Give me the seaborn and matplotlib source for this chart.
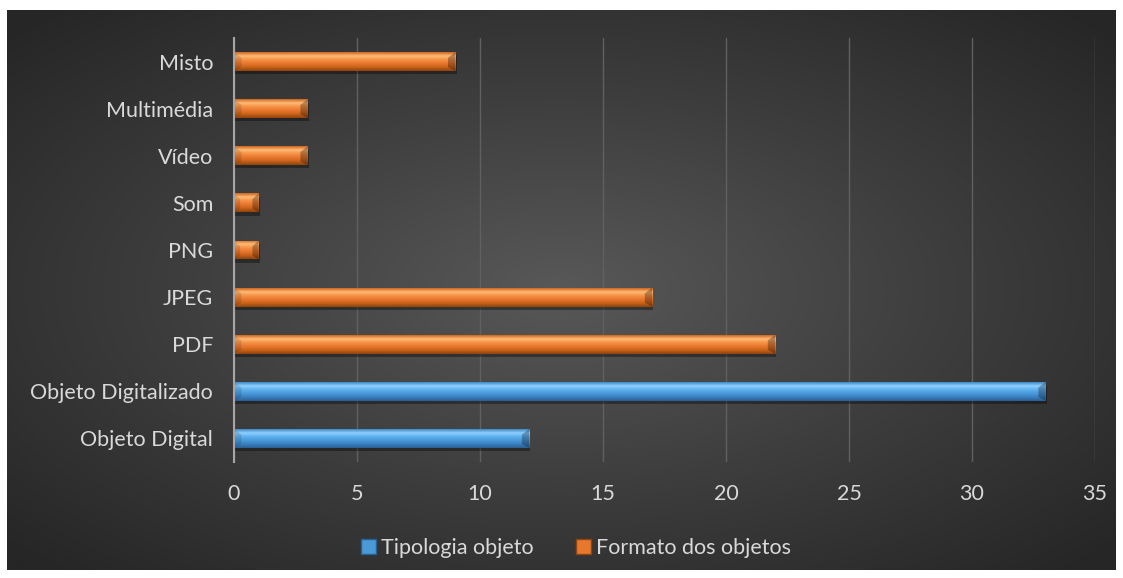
import numpy as np
import pandas as pd
import matplotlib
matplotlib.use("Agg")
import matplotlib.pyplot as plt
import seaborn as sns
from matplotlib.patches import Patch
from matplotlib.colors import LinearSegmentedColormap, to_rgb

# Data
categorias = ["Misto", "Multimédia", "Vídeo", "Som", "PNG", "JPEG", "PDF",
              "Objeto Digitalizado", "Objeto Digital"]
valores = [9, 3, 3, 1, 1, 17, 22, 33, 12]
series = ["Formato dos objetos"] * 7 + ["Tipologia objeto"] * 2
legenda = ["Tipologia objeto", "Formato dos objetos"]
cores = {"Tipologia objeto": "#4a9ad8", "Formato dos objetos": "#e8772e"}
# vertical shading stops (top -> bottom) for the bevelled look
sombras = {
    "Tipologia objeto": ["#3f88c8", "#8fd0ff", "#5eb0f0", "#4a9ad8", "#3a7fc0", "#2a5f92"],
    "Formato dos objetos": ["#d0651e", "#ffbb78", "#f59245", "#e8772e", "#c96218", "#8e4410"],
}

df = pd.DataFrame({"categoria": categorias, "valor": valores, "serie": series})

sns.set_theme(style="dark")
plt.rcParams["font.family"] = ["Lato", "DejaVu Sans"]

W, H = 1123, 578
fig = plt.figure(figsize=(W / 100, H / 100), dpi=100, facecolor="white")

# dark panel with radial gradient
bg = fig.add_axes([7 / W, 1 - 570 / H, (1116 - 7) / W, (570 - 10) / H])
gy, gx = np.mgrid[-1:1:300j, -1:1:600j]
r = np.sqrt((gx * 0.95) ** 2 + (gy * 0.95) ** 2)
r = np.clip(r, 0, 1.3) / 1.3
bgcmap = LinearSegmentedColormap.from_list("bg", ["#585858", "#3e3e3e", "#262626"])
bg.imshow(r, cmap=bgcmap, aspect="auto", extent=(0, 1, 0, 1), interpolation="bicubic")
bg.set_axis_off()

left, right = 234 / W, 1095 / W
top, bottom = 1 - 38 / H, 1 - 462 / H
ax = fig.add_axes([left, bottom, right - left, top - bottom])
ax.set_facecolor("none")

sns.barplot(data=df, y="categoria", x="valor", hue="serie", hue_order=legenda,
            order=categorias, orient="h", dodge=False, width=0.4,
            palette=cores, legend=False, ax=ax, zorder=3, linewidth=0, edgecolor="none")

ax.set_xlim(0, 35)
ax.set_ylim(len(categorias) - 0.5, -0.5)
ax.set_xticks(range(0, 36, 5))
ax.grid(axis="x", color="#606060", linewidth=1.0)
ax.grid(axis="y", visible=False)
ax.set_axisbelow(True)
for s in ["top", "right", "bottom"]:
    ax.spines[s].set_visible(False)
ax.spines["left"].set_color("#a6a6a6")
ax.spines["left"].set_linewidth(1.5)
ax.spines["left"].set_zorder(5)
ax.tick_params(axis="both", length=0, colors="#d9d9d9", labelsize=15.5)
ax.tick_params(axis="x", pad=16)
ax.tick_params(axis="y", pad=15)
ax.set_xlabel("")
ax.set_ylabel("")

# bevelled shading drawn over each bar
for patch in list(ax.patches):
    x0, y0 = patch.get_x(), patch.get_y()
    w, h = patch.get_width(), patch.get_height()
    if w <= 0:
        continue
    fc = np.array(patch.get_facecolor()[:3])
    key = min(cores, key=lambda k: np.sum((np.array(to_rgb(cores[k])) - fc) ** 2))
    cmap = LinearSegmentedColormap.from_list("b", sombras[key])
    grad = np.linspace(0, 1, 64).reshape(-1, 1)
    # soft shadow under bar
    ax.add_patch(plt.Rectangle((x0 + 0.05, y0 + 0.07), w, h, color="black", alpha=0.35,
                               zorder=2.5, linewidth=0))
    im = ax.imshow(grad, cmap=cmap, aspect="auto", extent=(x0, x0 + w, y0 + h, y0),
                   zorder=3.5, interpolation="bilinear")
    im.set_clip_path(patch)
    # end facets
    bev = min(0.3, w * 0.25)
    ax.add_patch(plt.Polygon([(x0 + w, y0), (x0 + w - bev, y0 + h * 0.3),
                              (x0 + w - bev, y0 + h * 0.8), (x0 + w, y0 + h)],
                             closed=True, facecolor="black", alpha=0.28, zorder=3.6,
                             linewidth=0, edgecolor="none"))
    ax.add_patch(plt.Polygon([(x0, y0), (x0 + bev, y0 + h * 0.3),
                              (x0 + bev, y0 + h * 0.8), (x0, y0 + h)],
                             closed=True, facecolor="black", alpha=0.12, zorder=3.6,
                             linewidth=0, edgecolor="none"))
ax.set_xlim(0, 35)
ax.set_ylim(len(categorias) - 0.5, -0.5)

handles = [Patch(facecolor=cores[k], edgecolor=sombras[k][-1]) for k in legenda]
fig.legend(handles, legenda, loc="center", bbox_to_anchor=(576 / W, 1 - 548 / H), ncol=2,
           frameon=False, fontsize=15.5, labelcolor="#d9d9d9", handlelength=0.7,
           handleheight=0.7, handletextpad=0.2, columnspacing=2.0)

fig.savefig("out.png", dpi=100, facecolor="white")
